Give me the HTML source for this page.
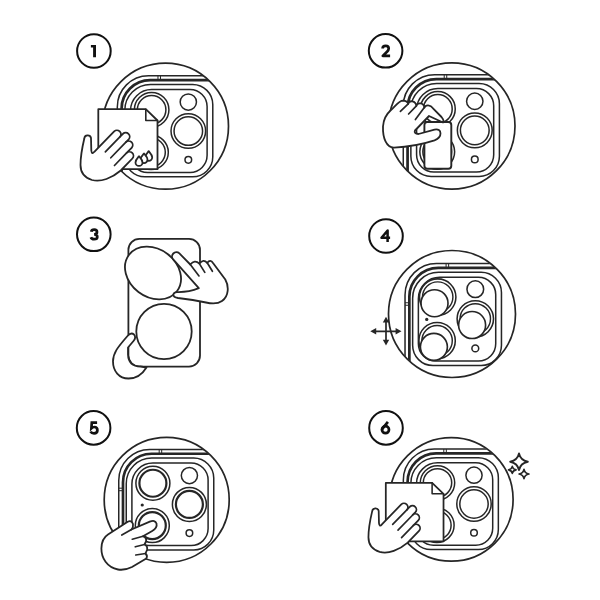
<!DOCTYPE html>
<html><head><meta charset="utf-8">
<style>
html,body{margin:0;padding:0;background:#fff;width:600px;height:600px;overflow:hidden}
svg{display:block}
text{font-family:"Liberation Sans",sans-serif;font-weight:bold;font-size:17px;fill:#111}
</style></head>
<body>
<svg width="600" height="600" viewBox="0 0 600 600">
<circle cx="93.9" cy="51" r="16.8" fill="none" stroke="#111" stroke-width="2"/>
<circle cx="385.6" cy="50.8" r="16.8" fill="none" stroke="#111" stroke-width="2"/>
<circle cx="93.8" cy="234.3" r="16.8" fill="none" stroke="#111" stroke-width="2"/>
<circle cx="386" cy="236" r="16.8" fill="none" stroke="#111" stroke-width="2"/>
<circle cx="93.6" cy="427.9" r="16.8" fill="none" stroke="#111" stroke-width="2"/>
<circle cx="386" cy="427.9" r="16.8" fill="none" stroke="#111" stroke-width="2"/>
<path d="M90.9 45 H96 V57.3 H93.1 V47.4 H90.9 Z" fill="#111"/>
<path d="M382.6 48.6 C382.6 46.7 384 45.9 385.7 45.9 C387.6 45.9 388.7 47 388.7 48.5 C388.7 49.8 388 50.7 387 51.8 L382.8 55.9 H390.1" fill="none" stroke="#111" stroke-width="2.7" stroke-linejoin="round"/>
<path d="M91.3 231.8 C91.5 230.4 92.6 229.7 94.2 229.7 C95.9 229.7 97 230.6 97 232 C97 233.5 95.8 234.4 94.1 234.4 C96.1 234.4 97.3 235.5 97.3 237 C97.3 238.6 96 239.2 94.1 239.2 C92.3 239.2 91.3 238.5 90.9 237.3" fill="none" stroke="#111" stroke-width="2.7"/>
<path d="M387.6 242 V230.6 L381.5 237.8 H390.1" fill="none" stroke="#111" stroke-width="2.5" stroke-linejoin="round"/>
<path d="M97.1 422.6 H91.8 L91.4 428.2 C92.2 427.4 93.2 427 94.3 427 C96.3 427 97.4 428.4 97.4 430.3 C97.4 432.3 96 433.4 94 433.4 C92.3 433.4 91.1 432.6 90.5 431.6" fill="none" stroke="#111" stroke-width="2.7"/>
<circle cx="385.5" cy="429.7" r="3.5" fill="none" stroke="#111" stroke-width="2.7"/>
<path d="M387.9 421.9 L382.9 428.2 Q382 429.3 382.1 430" fill="none" stroke="#111" stroke-width="2.7"/>
<g transform="translate(165.5,126.2)" fill="none" stroke="#262626">
<clipPath id="cl1"><circle cx="0" cy="0" r="62.60"/></clipPath>
<g clip-path="url(#cl1)"><g transform="translate(0.0,0.2) scale(1.005)">
<path d="M-47.95 90 V-19.4 A31 31 0 0 1 -16.95 -50.4 H90" stroke-width="1.5"/>
<path d="M-43.7 90 V-17.5 A28.5 28.5 0 0 1 -15.2 -46.05 H90" stroke-width="2.7"/>
<path d="M-7.5 -50.4 V-46.05 M-5 -50.4 V-46.05 M-47.95 -11.6 H-43.7 M-47.95 -9.1 H-43.7" stroke-width="1"/>
</g></g>
<g transform="translate(0.0,0.2) scale(1.005)">
<path d="M-40.45 -16.200000000000003 A25.5 25.5 0 0 1 -14.950000000000003 -41.7 H27.049999999999997 A20 20 0 0 1 47.05 -21.700000000000003 V30.200000000000003 A20 20 0 0 1 27.049999999999997 50.2 H-20.450000000000003 A20 20 0 0 1 -40.45 30.200000000000003 Z" stroke-width="1.5"/>
<path d="M-34.8 -15.700000000000003 A21 21 0 0 1 -13.799999999999997 -36.7 H24.4 A17 17 0 0 1 41.4 -19.700000000000003 V28.799999999999997 A17 17 0 0 1 24.4 45.8 H-17.799999999999997 A17 17 0 0 1 -34.8 28.799999999999997 Z" stroke-width="1.5"/>
</g>
<g transform="translate(0.0,0.2) scale(1.005)">
<circle cx="-13.8" cy="-16.55" r="17.2" stroke-width="1.5"/>
<circle cx="-13.8" cy="-16.55" r="14.2" stroke-width="1.5"/>
<circle cx="-14.4" cy="25.8" r="17.2" stroke-width="1.5"/>
<circle cx="-14.4" cy="25.8" r="14.2" stroke-width="1.5"/>
<circle cx="22.7" cy="4.6" r="17.2" stroke-width="1.5"/>
<circle cx="22.7" cy="4.6" r="14.2" stroke-width="1.5"/>
<circle cx="22.7" cy="-24.2" r="8.1" stroke-width="1.5"/>
<circle cx="22.7" cy="33.3" r="3.3" stroke-width="1.5"/>
<circle cx="-24.45" cy="5.2" r="1.6" fill="#262626" stroke="none"/>
</g>
<circle cx="0" cy="0" r="63" stroke-width="1.7"/>
</g>
<g stroke-linejoin="round" stroke-linecap="round" stroke="#262626">
<path d="M98.3 109.2 H145.8 L157.5 120.5 V169.2 H98.3 Z" fill="#fff" stroke-width="1.8"/>
<path d="M145.8 109.2 V120.5 H157.5" fill="none" stroke-width="1.6"/>
<path d="M80.5 165 C80.5 155 83 144 84.3 138.5 A3.4 3.4 0 0 1 91 138 L91.3 150.5 Q91.8 155 94.3 151.8 L114.16 131.37 A4 4 0 0 1 119.9 136.93 L122.96 133.77 A4 4 0 0 1 128.69 139.34 L125.91 142.21 A4 4 0 0 1 131.65 147.78 L126.64 152.94 A4 4 0 0 1 132.38 158.51 L120.76 170.5 C112 178 101 182.5 92 180 C84 177.5 80.5 172 80.5 165 Z" fill="#fff" stroke-width="1.8"/>
<path d="M105.35 151.91 L119.9 136.93 M110.81 157.77 L125.91 142.21 M114.46 165.49 L126.64 152.94" fill="none" stroke-width="1.7"/>
<g fill="#fff" stroke-width="1.8">
<path d="M148.7 151.2 C150.2 153.0 152.2 154.79999999999998 152.2 157.29999999999998 A3.5 3.5 0 0 1 145.2 157.29999999999998 C145.2 154.79999999999998 147.2 153.0 148.7 151.2 Z"/>
<path d="M144 153.5 C145.5 155.3 147.5 157.1 147.5 159.6 A3.5 3.5 0 0 1 140.5 159.6 C140.5 157.1 142.5 155.3 144 153.5 Z"/>
<path d="M139 156.3 C140.5 158.10000000000002 142.5 159.9 142.5 162.4 A3.5 3.5 0 0 1 135.5 162.4 C135.5 159.9 137.5 158.10000000000002 139 156.3 Z"/>
</g>
</g>
<g transform="translate(451.8,126)" fill="none" stroke="#262626">
<clipPath id="cl2"><circle cx="0" cy="0" r="62.80"/></clipPath>
<g clip-path="url(#cl2)"><g transform="translate(0.0,-0.3) scale(1.012)">
<path d="M-47.95 90 V-19.4 A31 31 0 0 1 -16.95 -50.4 H90" stroke-width="1.5"/>
<path d="M-43.7 90 V-17.5 A28.5 28.5 0 0 1 -15.2 -46.05 H90" stroke-width="2.7"/>
<path d="M-7.5 -50.4 V-46.05 M-5 -50.4 V-46.05 M-47.95 -11.6 H-43.7 M-47.95 -9.1 H-43.7" stroke-width="1"/>
</g></g>
<g transform="translate(0.0,-0.3) scale(1.012)">
<path d="M-40.45 -16.200000000000003 A25.5 25.5 0 0 1 -14.950000000000003 -41.7 H27.049999999999997 A20 20 0 0 1 47.05 -21.700000000000003 V30.200000000000003 A20 20 0 0 1 27.049999999999997 50.2 H-20.450000000000003 A20 20 0 0 1 -40.45 30.200000000000003 Z" stroke-width="1.5"/>
<path d="M-34.8 -15.700000000000003 A21 21 0 0 1 -13.799999999999997 -36.7 H24.4 A17 17 0 0 1 41.4 -19.700000000000003 V28.799999999999997 A17 17 0 0 1 24.4 45.8 H-17.799999999999997 A17 17 0 0 1 -34.8 28.799999999999997 Z" stroke-width="1.5"/>
</g>
<g transform="translate(0.0,-0.3) scale(1.012)">
<circle cx="-13.8" cy="-16.55" r="17.2" stroke-width="1.5"/>
<circle cx="-13.8" cy="-16.55" r="14.2" stroke-width="1.5"/>
<circle cx="-14.4" cy="25.8" r="17.2" stroke-width="1.5"/>
<circle cx="-14.4" cy="25.8" r="14.2" stroke-width="1.5"/>
<circle cx="22.7" cy="4.6" r="17.2" stroke-width="1.5"/>
<circle cx="22.7" cy="4.6" r="14.2" stroke-width="1.5"/>
<circle cx="22.7" cy="-24.2" r="8.1" stroke-width="1.5"/>
<circle cx="22.7" cy="33.3" r="3.3" stroke-width="1.5"/>
<circle cx="-24.45" cy="5.2" r="1.6" fill="#262626" stroke="none"/>
</g>
<circle cx="0" cy="0" r="63.2" stroke-width="1.7"/>
</g>
<g stroke-linejoin="round" stroke-linecap="round" stroke="#262626">
<rect x="424.4" y="122" width="26.9" height="46.7" rx="3" fill="#fff" stroke-width="1.9"/>
<path d="M394 147.6 C386.5 147.8 382.6 138 383 126.5 C383.5 119 386 114.5 390.5 110.5 C395 107 398.5 100.6 403 100.6 C406 100.7 407.6 102 408.2 103.8 C409.3 100 415.6 100.3 416.4 105.9 C417.3 102.3 423.6 102.4 424.4 107.6 C425.5 104.6 430.5 104.6 433 108.3 L441.5 117 Q444.5 120.5 443 122.5 L429 116 L415 130.5 Q413.5 133.5 418.5 134 L434.5 129.6 Q440.3 128.6 440.5 133.3 Q440.6 138 434.5 140.4 C425 143.5 411 146.8 394 147.6 Z" fill="#fff" stroke-width="1.8"/>
<path d="M400.4 111.3 L408.2 103.8 M408.6 114 L416.4 105.9 M415.4 119.6 L424.3 107.6" fill="none" stroke-width="1.7"/>
</g>
<g stroke-linejoin="round" stroke-linecap="round" stroke="#262626" fill="#fff">
<rect x="128.4" y="238.8" width="71.6" height="127.8" rx="11" stroke-width="1.8"/>
<circle cx="164" cy="331.5" r="27.7" stroke-width="1.8"/>
<ellipse cx="153" cy="273" rx="30.1" ry="24" transform="rotate(37.35 153 273)" stroke-width="1.8"/>
<path d="M198.8 288.2 L173.4 259.6 A4.1 4.1 0 0 1 179.4 253.4 L190.3 264.5 Q194.6 259.3 199.4 263.6 Q203.3 258.6 207.2 262.8 Q210.4 258.7 213.2 263.2 L225.3 279.5 C229 286 229 296 222 301 C218 303.8 212 303.8 206 302.5 C197 300.5 187 299 178 298 Q173 297.3 173.4 294.3 Q174.3 291.8 177.5 292.1 Q189 292.3 198.8 288.2 Z" stroke-width="1.8"/>
<path d="M190.3 264.5 L199 275.9 M199.2 263.4 L204.8 272.4 M207.2 262.8 L212.4 271.25" fill="none" stroke-width="1.7"/>
<path d="M146.5 367.5 C142.5 374 136 378.5 128.5 378.5 C119 378.5 113 371 113 361.5 C113 353 117.5 347.5 127.5 336 Q131 332 134 334.5 Q136.5 337.5 133.5 341 L128 347.5 L128 354.5 Q128.5 366.5 140.5 366.5 Z" stroke-width="1.8"/>
</g>
<g transform="translate(452,314)" fill="none" stroke="#262626">
<clipPath id="cl4"><circle cx="0" cy="0" r="63.10"/></clipPath>
<g clip-path="url(#cl4)"><g transform="translate(1.7,0.6) scale(1.015)">
<path d="M-47.95 90 V-19.4 A31 31 0 0 1 -16.95 -50.4 H90" stroke-width="1.5"/>
<path d="M-43.7 90 V-17.5 A28.5 28.5 0 0 1 -15.2 -46.05 H90" stroke-width="2.7"/>
<path d="M-7.5 -50.4 V-46.05 M-5 -50.4 V-46.05 M-47.95 -11.6 H-43.7 M-47.95 -9.1 H-43.7" stroke-width="1"/>
</g></g>
<g transform="translate(1.7,0.6) scale(1.015)">
<path d="M-40.45 -16.200000000000003 A25.5 25.5 0 0 1 -14.950000000000003 -41.7 H27.049999999999997 A20 20 0 0 1 47.05 -21.700000000000003 V30.200000000000003 A20 20 0 0 1 27.049999999999997 50.2 H-20.450000000000003 A20 20 0 0 1 -40.45 30.200000000000003 Z" stroke-width="1.5"/>
<path d="M-34.8 -15.700000000000003 A21 21 0 0 1 -13.799999999999997 -36.7 H24.4 A17 17 0 0 1 41.4 -19.700000000000003 V28.799999999999997 A17 17 0 0 1 24.4 45.8 H-17.799999999999997 A17 17 0 0 1 -34.8 28.799999999999997 Z" stroke-width="1.5"/>
</g>
<g transform="translate(-0.08,0.11) scale(1.03)">
<circle cx="-13.8" cy="-16.55" r="17.67" stroke-width="1.5"/>
<circle cx="-13.8" cy="-16.55" r="14.75" stroke-width="1.4"/>
<circle cx="-16.900000000000002" cy="-10.55" r="13.1" stroke-width="1.6" fill="#fff"/>
<circle cx="-14.4" cy="25.8" r="17.67" stroke-width="1.5"/>
<circle cx="-14.4" cy="25.8" r="14.75" stroke-width="1.4"/>
<circle cx="-17.5" cy="31.8" r="13.1" stroke-width="1.6" fill="#fff"/>
<circle cx="22.7" cy="4.6" r="17.67" stroke-width="1.5"/>
<circle cx="22.7" cy="4.6" r="14.75" stroke-width="1.4"/>
<circle cx="19.599999999999998" cy="10.6" r="13.1" stroke-width="1.6" fill="#fff"/>
<circle cx="22.7" cy="-24.2" r="8.1" stroke-width="1.5"/>
<circle cx="22.7" cy="33.3" r="3.3" stroke-width="1.5"/>
<circle cx="-24.45" cy="5.2" r="1.6" fill="#262626" stroke="none"/>
</g>
<circle cx="0" cy="0" r="63.5" stroke-width="1.7"/>
</g>
<g stroke="#262626" fill="#262626">
<path d="M374 331.3 H397.5 M386 320.5 V341.5" stroke-width="1.7" fill="none"/>
<path d="M370.3 331.3 L376.2 328.1 L376.2 334.5 Z M401.5 331.3 L395.6 328.1 L395.6 334.5 Z M386 316.8 L382.8 322.6 L389.2 322.6 Z M386 345.6 L382.8 339.8 L389.2 339.8 Z" stroke="none"/>
</g>
<g transform="translate(166.7,499.8)" fill="none" stroke="#262626">
<clipPath id="cl5"><circle cx="0" cy="0" r="62.10"/></clipPath>
<g clip-path="url(#cl5)"><g transform="translate(0.0,0.0) scale(1.0)">
<path d="M-47.95 90 V-19.4 A31 31 0 0 1 -16.95 -50.4 H90" stroke-width="1.5"/>
<path d="M-43.7 90 V-17.5 A28.5 28.5 0 0 1 -15.2 -46.05 H90" stroke-width="2.7"/>
<path d="M-7.5 -50.4 V-46.05 M-5 -50.4 V-46.05 M-47.95 -11.6 H-43.7 M-47.95 -9.1 H-43.7" stroke-width="1"/>
</g></g>
<g transform="translate(0.0,0.0) scale(1.0)">
<path d="M-40.45 -16.200000000000003 A25.5 25.5 0 0 1 -14.950000000000003 -41.7 H27.049999999999997 A20 20 0 0 1 47.05 -21.700000000000003 V30.200000000000003 A20 20 0 0 1 27.049999999999997 50.2 H-20.450000000000003 A20 20 0 0 1 -40.45 30.200000000000003 Z" stroke-width="1.5"/>
<path d="M-34.8 -15.700000000000003 A21 21 0 0 1 -13.799999999999997 -36.7 H24.4 A17 17 0 0 1 41.4 -19.700000000000003 V28.799999999999997 A17 17 0 0 1 24.4 45.8 H-17.799999999999997 A17 17 0 0 1 -34.8 28.799999999999997 Z" stroke-width="1.5"/>
</g>
<g transform="translate(0.0,0.0) scale(1.0)">
<circle cx="-13.8" cy="-16.55" r="17" stroke-width="1.5"/>
<circle cx="-13.8" cy="-16.55" r="13.5" stroke-width="2.2"/>
<circle cx="-14.4" cy="25.8" r="17" stroke-width="1.5"/>
<circle cx="-14.4" cy="25.8" r="13.5" stroke-width="2.2"/>
<circle cx="22.7" cy="4.6" r="17" stroke-width="1.5"/>
<circle cx="22.7" cy="4.6" r="13.5" stroke-width="2.2"/>
<circle cx="22.7" cy="-24.2" r="8.1" stroke-width="1.5"/>
<circle cx="22.7" cy="33.3" r="3.3" stroke-width="1.5"/>
<circle cx="-24.45" cy="5.2" r="1.6" fill="#262626" stroke="none"/>
</g>
<circle cx="0" cy="0" r="62.5" stroke-width="1.7"/>
</g>
<g stroke-linejoin="round" stroke-linecap="round" stroke="#262626">
<path d="M101.4 548.5 C101.5 542 104 537 108 534.5 L127.7 521.7 Q131.5 519.8 133 524 Q133.5 527 131.5 529.5 L149.8 521.7 Q155 519.5 156.5 523.5 Q157.5 528 152.2 531 L143 536.3 Q147 537.5 146 541.5 L144.5 544.5 Q148 546 147 550 L145.5 553.5 Q148 556 146.3 558.5 L132 567 C126 570 121 570 118 569.5 C107 567.5 101.3 558 101.4 548.5 Z" fill="#fff" stroke-width="1.8"/>
<path d="M121.8 535.1 L131.5 529.5 M132.3 539.2 L143 536.3 M135.3 546.8 L144.5 544.5 M135.8 555 L145.5 553.5" fill="none" stroke-width="1.7"/>
</g>
<g transform="translate(451.3,499.4)" fill="none" stroke="#262626">
<clipPath id="cl6"><circle cx="0" cy="0" r="61.40"/></clipPath>
<g clip-path="url(#cl6)"><g transform="translate(0.0,0.0) scale(1.0)">
<path d="M-47.95 90 V-19.4 A31 31 0 0 1 -16.95 -50.4 H90" stroke-width="1.5"/>
<path d="M-43.7 90 V-17.5 A28.5 28.5 0 0 1 -15.2 -46.05 H90" stroke-width="2.7"/>
<path d="M-7.5 -50.4 V-46.05 M-5 -50.4 V-46.05 M-47.95 -11.6 H-43.7 M-47.95 -9.1 H-43.7" stroke-width="1"/>
</g></g>
<g transform="translate(0.0,0.0) scale(1.0)">
<path d="M-40.45 -16.200000000000003 A25.5 25.5 0 0 1 -14.950000000000003 -41.7 H27.049999999999997 A20 20 0 0 1 47.05 -21.700000000000003 V30.200000000000003 A20 20 0 0 1 27.049999999999997 50.2 H-20.450000000000003 A20 20 0 0 1 -40.45 30.200000000000003 Z" stroke-width="1.5"/>
<path d="M-34.8 -15.700000000000003 A21 21 0 0 1 -13.799999999999997 -36.7 H24.4 A17 17 0 0 1 41.4 -19.700000000000003 V28.799999999999997 A17 17 0 0 1 24.4 45.8 H-17.799999999999997 A17 17 0 0 1 -34.8 28.799999999999997 Z" stroke-width="1.5"/>
</g>
<g transform="translate(0.0,0.0) scale(1.0)">
<circle cx="-13.8" cy="-16.55" r="17.2" stroke-width="1.5"/>
<circle cx="-13.8" cy="-16.55" r="14.2" stroke-width="1.5"/>
<circle cx="-14.4" cy="25.8" r="17.2" stroke-width="1.5"/>
<circle cx="-14.4" cy="25.8" r="14.2" stroke-width="1.5"/>
<circle cx="22.7" cy="4.6" r="17.2" stroke-width="1.5"/>
<circle cx="22.7" cy="4.6" r="14.2" stroke-width="1.5"/>
<circle cx="22.7" cy="-24.2" r="8.1" stroke-width="1.5"/>
<circle cx="22.7" cy="33.3" r="3.3" stroke-width="1.5"/>
<circle cx="-24.45" cy="5.2" r="1.6" fill="#262626" stroke="none"/>
</g>
<circle cx="0" cy="0" r="61.8" stroke-width="1.7"/>
</g>
<g transform="matrix(0.975,0,0,0.975,289.96,376.33)"><g stroke-linejoin="round" stroke-linecap="round" stroke="#262626">
<path d="M98.3 109.2 H145.8 L157.5 120.5 V169.2 H98.3 Z" fill="#fff" stroke-width="1.8"/>
<path d="M145.8 109.2 V120.5 H157.5" fill="none" stroke-width="1.6"/>
<path d="M80.5 165 C80.5 155 83 144 84.3 138.5 A3.4 3.4 0 0 1 91 138 L91.3 150.5 Q91.8 155 94.3 151.8 L114.16 131.37 A4 4 0 0 1 119.9 136.93 L122.96 133.77 A4 4 0 0 1 128.69 139.34 L125.91 142.21 A4 4 0 0 1 131.65 147.78 L126.64 152.94 A4 4 0 0 1 132.38 158.51 L120.76 170.5 C112 178 101 182.5 92 180 C84 177.5 80.5 172 80.5 165 Z" fill="#fff" stroke-width="1.8"/>
<path d="M105.35 151.91 L119.9 136.93 M110.81 157.77 L125.91 142.21 M114.46 165.49 L126.64 152.94" fill="none" stroke-width="1.7"/>
</g></g>
<path d="M519 453.4 C520.056 458.38 522.52 460.704 527.8 461.7 C522.52 462.69599999999997 520.056 465.02 519 470.0 C517.944 465.02 515.48 462.69599999999997 510.2 461.7 C515.48 460.704 517.944 458.38 519 453.4 Z" fill="none" stroke="#262626" stroke-width="1.9" stroke-linejoin="round"/>
<path d="M512.3 466.4 C512.756 468.5 513.8199999999999 469.47999999999996 516.0999999999999 469.9 C513.8199999999999 470.32 512.756 471.29999999999995 512.3 473.4 C511.84399999999994 471.29999999999995 510.78 470.32 508.49999999999994 469.9 C510.78 469.47999999999996 511.84399999999994 468.5 512.3 466.4 Z" fill="none" stroke="#262626" stroke-width="1.6" stroke-linejoin="round"/>
<path d="M524 469.3 C524.588 472.12 525.96 473.436 528.9 474 C525.96 474.564 524.588 475.88 524 478.7 C523.412 475.88 522.04 474.564 519.1 474 C522.04 473.436 523.412 472.12 524 469.3 Z" fill="none" stroke="#262626" stroke-width="1.7" stroke-linejoin="round"/>
</svg>
</body></html>
